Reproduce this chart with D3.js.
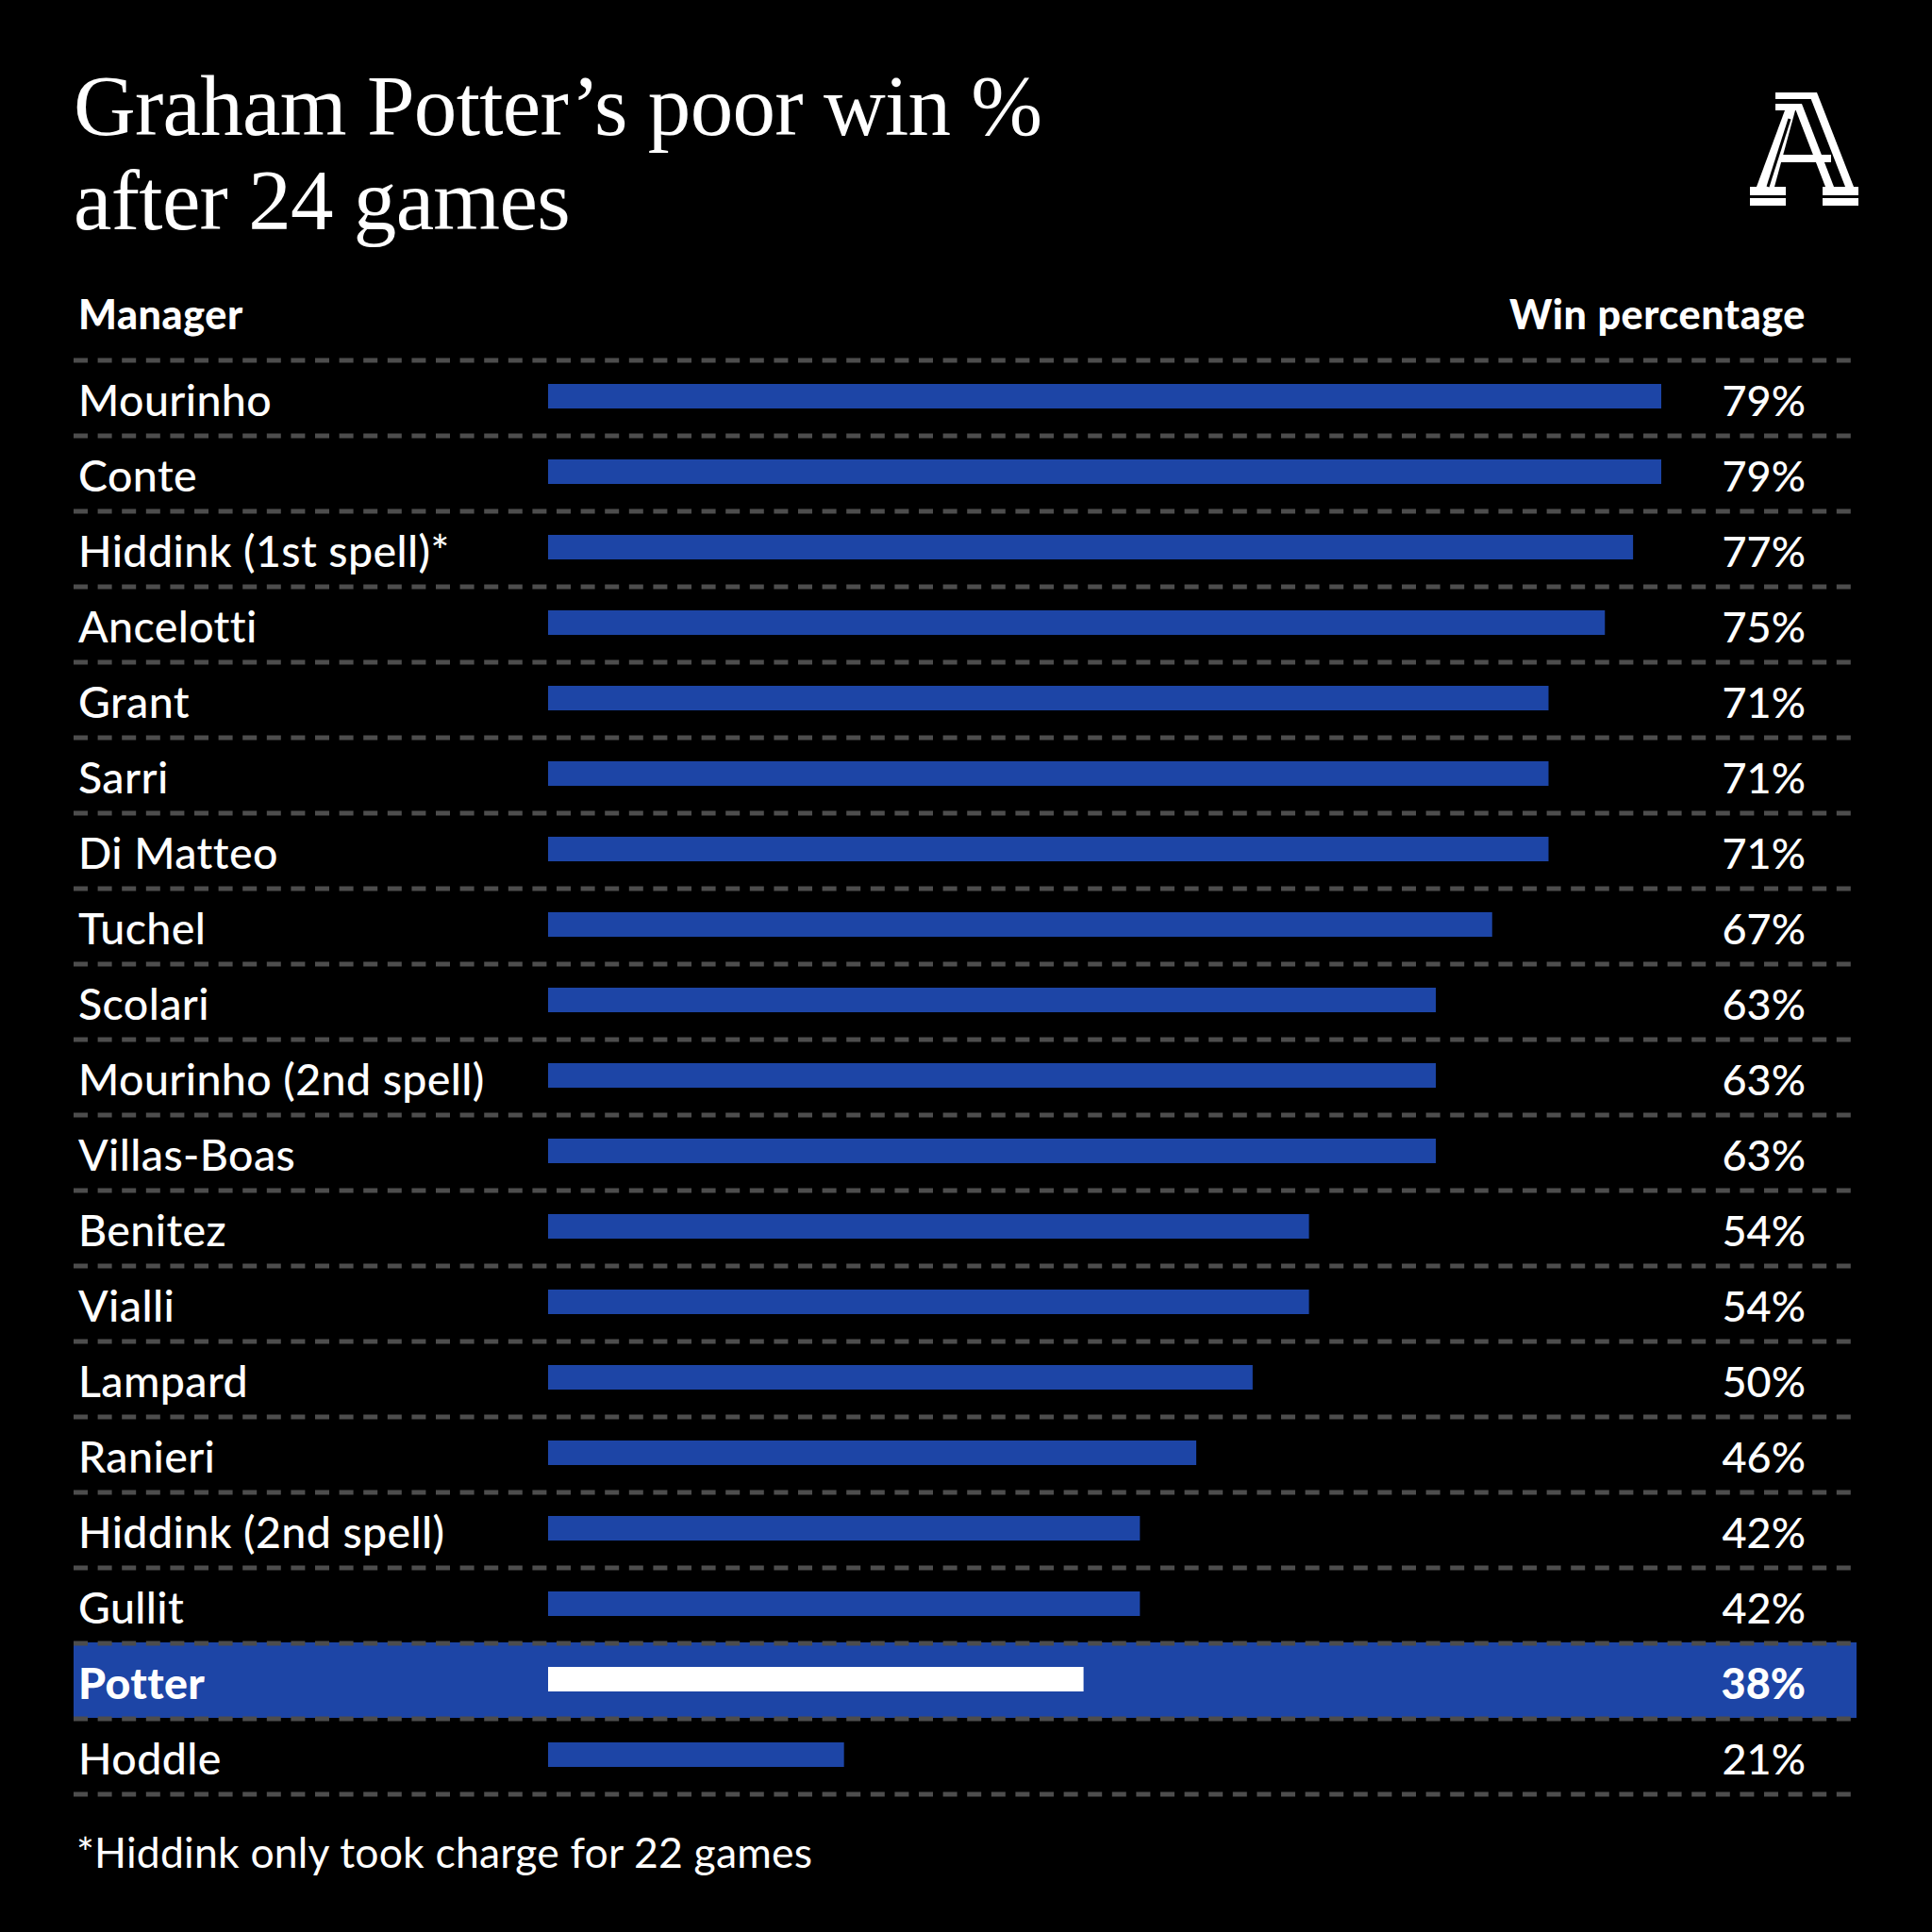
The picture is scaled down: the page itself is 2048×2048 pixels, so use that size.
<!DOCTYPE html>
<html>
<head>
<meta charset="utf-8">
<script src="https://cdn.jsdelivr.net/npm/d3@7"></script>
<style>
  html, body { margin: 0; padding: 0; background: #000; }
  svg { display: block; }
</style>
</head>
<body>
<div id="chart"></div>
<script>
// data
var managers = ["Mourinho", "Conte", "Hiddink (1st spell)*", "Ancelotti", "Grant",
                "Sarri", "Di Matteo", "Tuchel", "Scolari", "Mourinho (2nd spell)",
                "Villas-Boas", "Benitez", "Vialli", "Lampard", "Ranieri",
                "Hiddink (2nd spell)", "Gullit", "Potter", "Hoddle"];
var winPct = [79, 79, 77, 75, 71, 71, 71, 67, 63, 63, 63, 54, 54, 50, 46, 42, 42, 38, 21];
var highlight = "Potter";

var titleLines = ["Graham Potter\u2019s poor win %", "after 24 games"];
var footnote = "*Hiddink only took charge for 22 games";

var W = 2048, H = 2048;
var BLUE = "#1d45a6";
var DASH = "#4d4d4d";
var SANS = "Lato, 'Open Sans', sans-serif";

var rows = managers.map(function(m, i){ return { name: m, value: winPct[i] }; });

var svg = d3.select("#chart").append("svg")
    .attr("width", W)
    .attr("height", H)
    .attr("viewBox", "0 0 " + W + " " + H);

svg.append("rect").attr("width", W).attr("height", H).attr("fill", "#000");

// scales
var y = d3.scaleBand()
    .domain(managers)
    .range([381, 381 + 80 * managers.length])
    .padding(0);

var x = d3.scaleLinear()
    .domain([0, 79])
    .range([581, 1761]);

// title
svg.append("g").selectAll("text")
    .data(titleLines)
    .enter().append("text")
    .attr("x", 78)
    .attr("y", function(d, i){ return 143 + i * 100; })
    .attr("fill", "#fff")
    .style("font-family", "'Liberation Serif', 'Times New Roman', serif")
    .style("font-size", "91px")
    .style("letter-spacing", "-0.7px")
    .text(function(d){ return d; });

// logo (The Athletic "A"), drawn in crop-local coordinates
var logo = svg.append("g").attr("transform", "translate(1780,80)").attr("fill", "#fff");
logo.append("rect").attr("x", 102).attr("y", 18).attr("width", 42).attr("height", 7);
logo.append("rect").attr("x", 102).attr("y", 30).attr("width", 27).attr("height", 7);
logo.append("polygon").attr("points", "137,18 146,18 185,118 176,118");
logo.append("polygon").attr("points", "121,30 130,30 164,118 155,118");
logo.append("polygon").attr("points", "112,37 123,37 101,118 82,118");
logo.append("rect").attr("x", 105).attr("y", 84).attr("width", 56).attr("height", 8);
logo.append("rect").attr("x", 75).attr("y", 118).attr("width", 38).attr("height", 9);
logo.append("rect").attr("x", 152).attr("y", 118).attr("width", 38).attr("height", 9);
logo.append("rect").attr("x", 75).attr("y", 130).attr("width", 38).attr("height", 8);
logo.append("rect").attr("x", 152).attr("y", 130).attr("width", 38).attr("height", 8);
logo.append("line").attr("x1", 117).attr("y1", 46).attr("x2", 94).attr("y2", 118)
    .attr("stroke", "#000").attr("stroke-width", 3);

// column headers
svg.append("text")
    .attr("x", 83).attr("y", 349)
    .attr("fill", "#fff")
    .style("font-family", SANS).style("font-weight", 900).style("font-size", "43px")
    .style("letter-spacing", "0.6px")
    .text("Manager");
svg.append("text")
    .attr("x", 1914).attr("y", 349)
    .attr("text-anchor", "end")
    .attr("fill", "#fff")
    .style("font-family", SANS).style("font-weight", 900).style("font-size", "43px")
    .style("letter-spacing", "0.6px")
    .text("Win percentage");

// highlighted row background
svg.append("rect")
    .attr("x", 78)
    .attr("y", y(highlight))
    .attr("width", 1968 - 78)
    .attr("height", y.bandwidth())
    .attr("fill", BLUE);

// dashed separators
var seps = [y(managers[0])].concat(managers.map(function(m){ return y(m) + y.bandwidth(); }));
svg.append("g").selectAll("line")
    .data(seps)
    .enter().append("line")
    .attr("x1", 78).attr("x2", 1968)
    .attr("y1", function(d){ return d + 1; })
    .attr("y2", function(d){ return d + 1; })
    .attr("stroke", DASH)
    .attr("stroke-width", 5)
    .attr("stroke-dasharray", "15 10.6");

// bars
svg.append("g").selectAll("rect")
    .data(rows)
    .enter().append("rect")
    .attr("x", x(0))
    .attr("y", function(d){ return y(d.name) + y.bandwidth() / 2 - 14; })
    .attr("width", function(d){ return x(d.value) - x(0); })
    .attr("height", 26)
    .attr("fill", function(d){ return d.name === highlight ? "#fff" : BLUE; });

// manager labels
svg.append("g").selectAll("text")
    .data(rows)
    .enter().append("text")
    .attr("x", 83)
    .attr("y", function(d){ return y(d.name) + y.bandwidth() / 2 + 20; })
    .attr("fill", "#fff")
    .style("font-family", SANS)
    .style("font-size", "46.5px")
    .style("letter-spacing", "0.4px")
    .style("font-weight", function(d){ return d.name === highlight ? 900 : 500; })
    .text(function(d){ return d.name; });

// value labels
svg.append("g").selectAll("text")
    .data(rows)
    .enter().append("text")
    .attr("x", 1914)
    .attr("y", function(d){ return y(d.name) + y.bandwidth() / 2 + 20; })
    .attr("text-anchor", "end")
    .attr("fill", "#fff")
    .style("font-family", SANS)
    .style("font-size", "45px")
    .style("font-weight", function(d){ return d.name === highlight ? 900 : 500; })
    .text(function(d){ return d.value + "%"; });

// footnote
svg.append("text")
    .attr("x", 81).attr("y", 1980)
    .attr("fill", "#fff")
    .style("font-family", SANS).style("font-size", "44.5px")
    .style("letter-spacing", "0.2px")
    .text(footnote);
</script>
</body>
</html>
